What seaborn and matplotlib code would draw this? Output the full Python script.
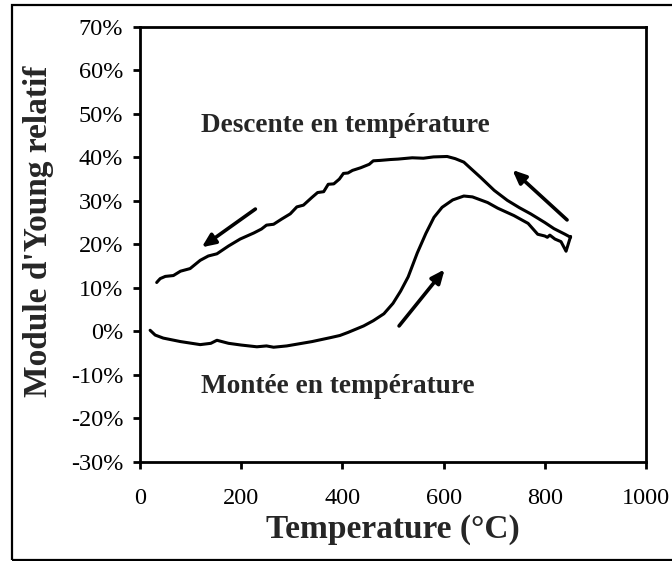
import matplotlib
matplotlib.use("Agg")
import matplotlib.pyplot as plt
import seaborn as sns
import pandas as pd
from matplotlib.patches import Rectangle
from matplotlib.ticker import FuncFormatter

# Heating curve (Montée en température)
heat_T = [20, 30, 46, 80, 119, 140, 152, 175, 200, 231, 250, 264, 290, 310, 340, 376, 395, 411,
          442, 461, 482, 500, 515, 530, 548, 565, 581, 597, 618, 640, 657, 687, 707, 739, 767,
          786, 800, 805, 810, 820, 832, 842, 851]
heat_Y = [0.2, -0.9, -1.6, -2.4, -3.1, -2.8, -2.1, -2.8, -3.2, -3.6, -3.4, -3.7, -3.4, -3.0, -2.4,
          -1.5, -1.0, -0.3, 1.2, 2.4, 4.0, 6.4, 9.2, 12.5, 18.0, 22.5, 26.2, 28.5, 30.2, 31.1, 30.9,
          29.6, 28.3, 26.6, 24.8, 22.3, 21.9, 21.6, 22.1, 21.2, 20.6, 18.4, 21.8]

# Cooling curve (Descente en température)
cool_T = [851, 840, 818, 800, 772, 750, 726, 700, 673, 655, 640, 623, 607, 580, 560, 538, 510,
          495, 475, 461, 453, 436, 420, 411, 402, 394, 383, 372, 363, 351, 340, 323, 310, 297,
          280, 264, 250, 240, 225, 198, 175, 152, 135, 119, 99, 80, 66, 50, 40, 36, 33]
cool_Y = [21.6, 22.3, 23.6, 25.0, 27.0, 28.4, 30.1, 32.4, 35.4, 37.3, 38.9, 39.7, 40.2, 40.1, 39.8,
          39.9, 39.6, 39.5, 39.3, 39.2, 38.4, 37.6, 37.0, 36.4, 36.3, 35.0, 33.9, 33.8, 32.1, 31.9,
          30.8, 29.0, 28.6, 27.0, 25.8, 24.6, 24.4, 23.5, 22.6, 21.2, 19.6, 17.8, 17.3, 16.3, 14.4,
          13.8, 12.8, 12.6, 12.1, 11.6, 11.2]

# Arrows: (tail_T, tail_Y, head_T, head_Y)
arrows = [(228, 28.1, 122, 19.3), (844, 25.6, 736, 37.1), (512, 1.2, 602, 14.2)]

labels_text = ["Descente en température", "Montée en température"]
labels_pos = [(121, 47.3), (121, -12.7)]

x_ticks = [0, 200, 400, 600, 800, 1000]
y_ticks = [-30, -20, -10, 0, 10, 20, 30, 40, 50, 60, 70]

sns.set_style("ticks")
plt.rcParams['font.family'] = ['Liberation Serif', 'DejaVu Serif']

fig = plt.figure(figsize=(6.72, 5.61), dpi=100)
ax = fig.add_axes([140/672, 1-461.5/561, 506/672, 434.5/561])

df_h = pd.DataFrame({"T": heat_T, "Y": heat_Y})
df_c = pd.DataFrame({"T": cool_T, "Y": cool_Y})
sns.lineplot(data=df_h, x="T", y="Y", sort=False, estimator=None, color="black", linewidth=2.2, ax=ax)
sns.lineplot(data=df_c, x="T", y="Y", sort=False, estimator=None, color="black", linewidth=2.2, ax=ax)

for (tx, ty, hx, hy) in arrows:
    ax.annotate("", xy=(hx, hy), xytext=(tx, ty),
                arrowprops=dict(arrowstyle="-|>,head_length=0.8,head_width=0.35", color="black", lw=2.6,
                                shrinkA=0, shrinkB=0))

for txt, (px, py) in zip(labels_text, labels_pos):
    ax.text(px, py, txt, fontsize=19.6, fontweight="bold", ha="left", va="center")

ax.set_xlim(0, 1000)
ax.set_ylim(-30, 70)
ax.set_xticks(x_ticks)
ax.set_yticks(y_ticks)
ax.yaxis.set_major_formatter(FuncFormatter(lambda v, p: f"{int(round(v))}%"))
ax.tick_params(axis="both", direction="out", length=5, width=2, labelsize=17.5, colors="black")
ax.tick_params(axis="x", pad=14)
ax.tick_params(axis="y", pad=7)
for s in ax.spines.values():
    s.set_linewidth(2)
    s.set_color("black")
    s.set_visible(True)
ax.set_xlabel("Temperature (°C)", fontsize=24, fontweight="bold", labelpad=4)
ax.set_ylabel("Module d'Young relatif", fontsize=24, fontweight="bold")
ax.yaxis.set_label_coords(-0.17, 0.529)

fig.patches.append(Rectangle((12/672, 1-560/561), 700/672, 555/561, transform=fig.transFigure,
                             fill=False, edgecolor="black", linewidth=1.6, clip_on=False))

fig.savefig("out.png", dpi=100)
